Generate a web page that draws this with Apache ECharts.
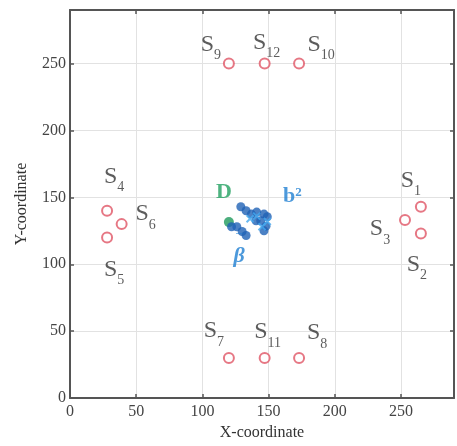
<!DOCTYPE html>
<html>
<head>
<meta charset="utf-8">
<script src="https://cdn.jsdelivr.net/npm/echarts@6/dist/echarts.min.js"></script>
<style>
  html, body { margin: 0; padding: 0; background: #fff; }
  #chart { width: 457px; height: 446px; }
</style>
</head>
<body>
<div id="chart"></div>
<script>
// Sensor positions (x, y) and their subscripts
const sensorIds = ['1', '2', '3', '4', '5', '6', '7', '8', '9', '10', '11', '12'];
const sensorX = [265, 265, 253, 28, 28, 39, 120, 173, 120, 173, 147, 147];
const sensorY = [143, 123, 133, 140, 120, 130, 30, 30, 250, 250, 30, 250];

// Estimated source positions (dark markers) and the b^2 estimates (crosses)
const estX = [129, 133, 137, 141, 146.5, 149, 144, 148, 146.5, 140.5, 122, 126, 130, 133];
const estY = [143, 140, 137.5, 139, 137.5, 135.5, 132.5, 128.5, 125, 132.5, 128, 128, 124.5, 121.5];
const bX = [145, 141, 149, 136];
const bY = [128, 136, 132, 134];

// True source D
const srcX = [120];
const srcY = [131.5];

const axisMax = 290;
const tickStep = 50;

// Label placement around each sensor marker (pixels from marker centre)
const sensorLabelOffset = {
  '1': [-10, -26], '2': [-4, 31], '3': [-25, 9],
  '4': [7, -34], '5': [7, 32], '6': [24, -10],
  '7': [-15, -27], '8': [18, -25], '9': [-18, -19],
  '10': [22, -19], '11': [3, -26], '12': [2, -21]
};

const serif = '"Liberation Serif", "DejaVu Serif", serif';

const sensorData = sensorIds.map((id, i) => ({
  value: [sensorX[i], sensorY[i]],
  label: {
    show: true,
    position: 'inside',
    offset: sensorLabelOffset[id],
    formatter: '{s|S}{sub|' + id + '}'
  }
}));

const estData = estX.map((x, i) => [x, estY[i]]);
const bData = bX.map((x, i) => [x, bY[i]]);
const srcData = srcX.map((x, i) => [x, srcY[i]]);

const labelRich = {
  s: { fontFamily: serif, fontSize: 24, color: '#333', lineHeight: 24, verticalAlign: 'bottom' },
  sub: { fontFamily: serif, fontSize: 14, color: '#333', padding: [0, 0, -6, 0], verticalAlign: 'bottom' }
};

function frameAxis(type, pos, showLabels, name) {
  const ax = {
    type: 'value',
    position: pos,
    min: 0,
    max: axisMax,
    interval: tickStep,
    axisLine: { show: true, onZero: false, lineStyle: { color: '#555', width: 2 } },
    axisTick: { show: true, inside: true, length: 4, lineStyle: { color: '#555', width: 1.5 } },
    splitLine: { show: showLabels, lineStyle: { color: '#e2e2e2', width: 1 } },
    axisLabel: {
      show: showLabels,
      fontFamily: serif,
      fontSize: 16,
      color: '#444',
      formatter: v => (v % tickStep === 0 ? String(v) : ''),
      margin: type === 'x' ? 6 : 4
    }
  };
  if (name) {
    ax.name = name;
    ax.nameLocation = 'middle';
    ax.nameGap = type === 'x' ? 23 : 40;
    ax.nameTextStyle = { fontFamily: serif, fontSize: 16, color: '#333' };
  }
  return ax;
}

const chart = echarts.init(document.getElementById('chart'), null, { renderer: 'canvas' });
chart.setOption({
  animation: false,
  backgroundColor: '#fff',
  grid: { left: 70, right: 2, top: 10, bottom: 47, containLabel: false },
  xAxis: [
    frameAxis('x', 'bottom', true, 'X-coordinate'),
    frameAxis('x', 'top', false)
  ],
  yAxis: [
    frameAxis('y', 'left', true, 'Y-coordinate'),
    frameAxis('y', 'right', false)
  ],
  series: [
    {
      name: 'sensors',
      type: 'scatter',
      symbol: 'circle',
      symbolSize: 10,
      itemStyle: { color: '#fff', borderColor: '#e05565', borderWidth: 2 },
      label: { rich: labelRich },
      data: sensorData
    },
    {
      name: 'estimates',
      type: 'scatter',
      symbol: 'circle',
      symbolSize: 9,
      itemStyle: { color: '#1f62b5' },
      data: estData.map((p, i) => {
        if (i === 5) {
          return { value: p, label: { show: true, position: 'inside', offset: [25, -20],
            formatter: '{b|b}{sup|2}',
            rich: {
              b: { fontFamily: serif, fontWeight: 'bold', fontSize: 22, color: '#1f7fd2', verticalAlign: 'bottom' },
              sup: { fontFamily: serif, fontWeight: 'bold', fontSize: 13, color: '#1f7fd2', padding: [0, 0, 9, 0], verticalAlign: 'bottom' }
            } } };
        }
        if (i === 13) {
          return { value: p, label: { show: true, position: 'inside', offset: [-7, 17],
            formatter: '{bar|\u203E}\n{beta|\u03B2}',
            rich: {
              bar: { fontFamily: serif, fontSize: 16, color: '#1f7fd2', lineHeight: 8, align: 'center' },
              beta: { fontFamily: serif, fontStyle: 'italic', fontWeight: 'bold', fontSize: 22, color: '#1f7fd2', lineHeight: 20, align: 'center' }
            } } };
        }
        return p;
      })
    },
    {
      name: 'b2',
      type: 'scatter',
      symbol: 'path://M-1,-1L1,1M-1,1L1,-1',
      symbolSize: 7,
      itemStyle: { color: 'none', borderColor: '#45a8ee', borderWidth: 2 },
      data: bData
    },
    {
      name: 'source',
      type: 'scatter',
      symbol: 'circle',
      symbolSize: 10,
      itemStyle: { color: '#1f9a5c' },
      z: 1,
      label: {
        show: true,
        position: 'inside',
        offset: [-5, -30],
        formatter: 'D',
        fontFamily: serif,
        fontWeight: 'bold',
        fontSize: 22,
        color: '#22a060'
      },
      data: srcData
    }
  ]
});
</script>
</body>
</html>
